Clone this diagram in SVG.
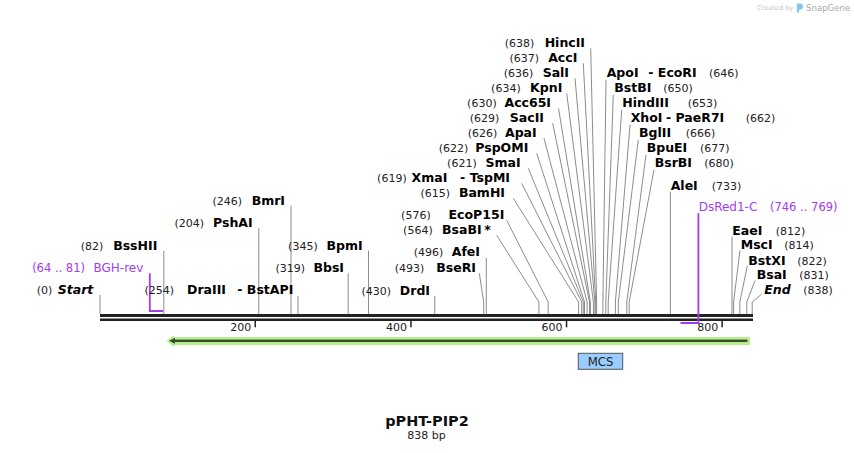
<svg xmlns="http://www.w3.org/2000/svg" width="854" height="453" viewBox="0 0 854 453">
<style>
.n{font-family:"DejaVu Sans",Verdana,sans-serif;font-size:12.5px;font-weight:bold;fill:#000}
.p{font-family:"DejaVu Sans",Verdana,sans-serif;font-size:11px;fill:#222}
.it{font-style:italic}
.e{text-anchor:end}
.pn{font-family:"DejaVu Sans",Verdana,sans-serif;font-size:12px;fill:#a23cf0}
.pp{font-family:"DejaVu Sans",Verdana,sans-serif;font-size:11.5px;fill:#a23cf0}
.l{stroke:#8c8c8c;stroke-width:1;fill:none}
.pl{stroke:#a23cf0;stroke-width:1.8;fill:none}
.tk{font-family:"DejaVu Sans",Verdana,sans-serif;font-size:11px;fill:#222;text-anchor:end}
</style>
<rect width="854" height="453" fill="#fff"/>
<g id="watermark">
<text x="757" y="10" font-family="DejaVu Sans,sans-serif" font-size="6.6" fill="#c4c4c4">Created by</text>
<path d="M797,3.5 h3 a3,3 0 0 1 0,6 h-1 v3 h-2 z" fill="#7cc8f0"/>
<text x="806" y="10.5" font-family="DejaVu Sans,sans-serif" font-size="8.6" fill="#a8a8a8">SnapGene</text>
</g>
<g id="backbone">
<rect x="100" y="314" width="653" height="3" fill="#222"/>
<rect x="100" y="318.5" width="653" height="2.5" fill="#222"/>
<g fill="#222">
<rect x="254.5" y="321" width="1.5" height="6.3"/>
<rect x="410.2" y="321" width="1.5" height="6.3"/>
<rect x="565.8" y="321" width="1.5" height="6.3"/>
<rect x="721.4" y="321" width="1.5" height="6.3"/>
</g>
<text class="tk" x="251.3" y="331">200</text>
<text class="tk" x="406.9" y="331">400</text>
<text class="tk" x="562.5" y="331">600</text>
<text class="tk" x="718.3" y="331">800</text>
</g>
<g id="connectors">
<path class="l" d="M100,295V314"/>
<path class="l" d="M163.8,251V314"/>
<path class="l" d="M258.8,228V314"/>
<path class="l" d="M291,205.5V314"/>
<path class="l" d="M298,296V314"/>
<path class="l" d="M348.2,273.3V314"/>
<path class="l" d="M368.5,250.7V314"/>
<path class="l" d="M434.8,296V314"/>
<path class="l" d="M479.3,273.3L483.7,302V314"/>
<path class="l" d="M486.3,258V314"/>
<path class="l" d="M496.7,235.3L538.9,302V314"/>
<path class="l" d="M506.7,220.3L548.2,302V314"/>
<path class="l" d="M513.3,198.3L578.6,302V314"/>
<path class="l" d="M521.7,183.3L581.7,302V314"/>
<path class="l" d="M528.3,168.3L583.3,302V314"/>
<path class="l" d="M536.7,153.3L584.5,302V314"/>
<path class="l" d="M544,138.3L587.1,302V314"/>
<path class="l" d="M552.7,123.3L589.5,302V314"/>
<path class="l" d="M558.5,108.3L590.4,302V314"/>
<path class="l" d="M566.7,93.3L593.4,302V314"/>
<path class="l" d="M575,78.3L594.9,302V314"/>
<path class="l" d="M583.3,63.3L595.7,302V314"/>
<path class="l" d="M590.7,48.3L596.6,302V314"/>
<path class="l" d="M606,79.8L602.9,302V314"/>
<path class="l" d="M613.3,94.8L605.8,302V314"/>
<path class="l" d="M621.7,109.8L608.2,302V314"/>
<path class="l" d="M630,124.8L615.4,302V314"/>
<path class="l" d="M638.3,139.8L618.3,302V314"/>
<path class="l" d="M646,154.8L626.8,302V314"/>
<path class="l" d="M654,169.8L629.2,302V314"/>
<path class="l" d="M670.4,191.7V314"/>
<path class="l" d="M732,236.7V314"/>
<path class="l" d="M740,250.3L733.6,302V314"/>
<path class="l" d="M747.3,265.8L739.8,302V314"/>
<path class="l" d="M755,280.5L746.8,302V314"/>
<path class="l" d="M761.7,294L752.2,302V314"/>
</g>
<g id="n-start"><text class="p e" x="52.3" y="293.8">(0)</text><text class="n e it" x="93.3" y="293.8">Start</text></g>
<g id="f-bgh-rev"><path class="pl" d="M149.8,273.3V311H163"/><text class="pp e" x="85" y="271.8">(64 .. 81)</text><text class="pn e" x="143.3" y="271.8">BGH-rev</text></g>
<g id="n-bsshii"><text class="p e" x="103.3" y="249.5">(82)</text><text class="n e" x="157.3" y="249.5">BssHII</text></g>
<g id="n-pshai"><text class="p e" x="204" y="226.8">(204)</text><text class="n e" x="252.7" y="226.8">PshAI</text></g>
<g id="n-bmri"><text class="p e" x="242" y="204.5">(246)</text><text class="n e" x="285" y="204.5">BmrI</text></g>
<g id="n-draiii"><text class="p e" x="174" y="293.8">(254)</text><text class="n e" x="226" y="293.8">DraIII</text><text class="n e" x="293.3" y="293.8">- BstAPI</text></g>
<g id="n-bbsi"><text class="p e" x="305" y="271.8">(319)</text><text class="n e" x="344" y="271.8">BbsI</text></g>
<g id="n-bpmi"><text class="p e" x="317.7" y="249.5">(345)</text><text class="n e" x="362.7" y="249.5">BpmI</text></g>
<g id="n-drdi"><text class="p e" x="391" y="294.5">(430)</text><text class="n e" x="430" y="294.5">DrdI</text></g>
<g id="n-beseri"><text class="p e" x="424.3" y="271.8">(493)</text><text class="n e" x="476" y="271.8">BseRI</text></g>
<g id="n-afei"><text class="p e" x="443.3" y="256.2">(496)</text><text class="n e" x="480" y="256.2">AfeI</text></g>
<g id="n-bsabi"><text class="p e" x="432.7" y="233.8">(564)</text><text class="n e" x="481.7" y="233.8">BsaBI</text><text class="n e" x="490.7" y="233.8">*</text></g>
<g id="n-ecop15i"><text class="p e" x="430.7" y="218.8">(576)</text><text class="n e" x="504.3" y="218.8">EcoP15I</text></g>
<g id="n-bamhi"><text class="p e" x="450" y="196.8">(615)</text><text class="n e" x="505" y="196.8">BamHI</text></g>
<g id="n-xmai"><text class="p e" x="406.7" y="181.8">(619)</text><text class="n e" x="447.3" y="181.8">XmaI</text><text class="n e" x="510" y="181.8">- TspMI</text></g>
<g id="n-smai"><text class="p e" x="476.7" y="166.8">(621)</text><text class="n e" x="520.7" y="166.8">SmaI</text></g>
<g id="n-pspomi"><text class="p e" x="468.3" y="151.8">(622)</text><text class="n e" x="528.3" y="151.8">PspOMI</text></g>
<g id="n-apai"><text class="p e" x="497.3" y="136.8">(626)</text><text class="n e" x="536.7" y="136.8">ApaI</text></g>
<g id="n-sacii"><text class="p e" x="499.3" y="121.8">(629)</text><text class="n e" x="544" y="121.8">SacII</text></g>
<g id="n-acc65i"><text class="p e" x="496.7" y="106.8">(630)</text><text class="n e" x="551" y="106.8">Acc65I</text></g>
<g id="n-kpni"><text class="p e" x="520.7" y="91.8">(634)</text><text class="n e" x="562.3" y="91.8">KpnI</text></g>
<g id="n-sali"><text class="p e" x="533.3" y="76.8">(636)</text><text class="n e" x="569" y="76.8">SalI</text></g>
<g id="n-acci"><text class="p e" x="539" y="61.8">(637)</text><text class="n e" x="577.3" y="61.8">AccI</text></g>
<g id="n-hincii"><text class="p e" x="534.3" y="46.8">(638)</text><text class="n e" x="585" y="46.8">HincII</text></g>
<g id="n-apoi"><text class="n" x="606.7" y="76.8">ApoI</text><text class="n" x="648.3" y="76.8">- EcoRI</text><text class="p" x="709" y="76.8">(646)</text></g>
<g id="n-bstbi"><text class="n" x="614.3" y="91.8">BstBI</text><text class="p" x="663.3" y="91.8">(650)</text></g>
<g id="n-hindiii"><text class="n" x="622.3" y="106.8">HindIII</text><text class="p" x="687.7" y="106.8">(653)</text></g>
<g id="n-xhoi"><text class="n" x="630.7" y="121.8">XhoI</text><text class="n" x="666" y="121.8">- PaeR7I</text><text class="p" x="745.7" y="121.8">(662)</text></g>
<g id="n-bglii"><text class="n" x="639" y="136.8">BglII</text><text class="p" x="685.7" y="136.8">(666)</text></g>
<g id="n-bpuei"><text class="n" x="646.7" y="151.8">BpuEI</text><text class="p" x="700" y="151.8">(677)</text></g>
<g id="n-bsrbi"><text class="n" x="654.7" y="166.8">BsrBI</text><text class="p" x="704.3" y="166.8">(680)</text></g>
<g id="n-alei"><text class="n" x="670.7" y="189.5">AleI</text><text class="p" x="711.7" y="189.5">(733)</text></g>
<g id="f-dsred1-c"><path class="pl" d="M698.4,213.3V323H680.5"/><text class="pn" x="698.7" y="211.2">DsRed1-C</text><text class="pp" x="770" y="211.2">(746 .. 769)</text></g>
<g id="n-eaei"><text class="n" x="732.3" y="234.5">EaeI</text><text class="p" x="775.7" y="234.5">(812)</text></g>
<g id="n-msci"><text class="n" x="740.7" y="248.8">MscI</text><text class="p" x="784.3" y="248.8">(814)</text></g>
<g id="n-bstxi"><text class="n" x="748.3" y="264.5">BstXI</text><text class="p" x="797.3" y="264.5">(822)</text></g>
<g id="n-bsai"><text class="n" x="756.7" y="279.2">BsaI</text><text class="p" x="799.3" y="279.2">(831)</text></g>
<g id="n-end"><text class="n it" x="764.3" y="293.8">End</text><text class="p" x="803.3" y="293.8">(838)</text></g>
<g id="f-arrow">
<path d="M166.5,341L174,335V337H750V345H174V347Z" fill="#b5f08a"/>
<rect x="172" y="339.6" width="575.5" height="2.4" fill="#3b4a33"/>
<path d="M169,340.8L175,337.8V343.8Z" fill="#3b4a33"/>
</g>
<g id="f-mcs">
<rect x="578.3" y="353.3" width="44.4" height="16" fill="#99ccff" stroke="#555" stroke-width="1"/>
<text x="600.5" y="366" font-family="DejaVu Sans,sans-serif" font-size="11.7" fill="#222" text-anchor="middle">MCS</text>
</g>
<g id="title">
<text x="427" y="426" font-family="DejaVu Sans,sans-serif" font-size="14.5" font-weight="bold" fill="#111" text-anchor="middle">pPHT-PIP2</text>
<text x="426.5" y="439" font-family="DejaVu Sans,sans-serif" font-size="11" fill="#222" text-anchor="middle">838 bp</text>
</g>
</svg>
